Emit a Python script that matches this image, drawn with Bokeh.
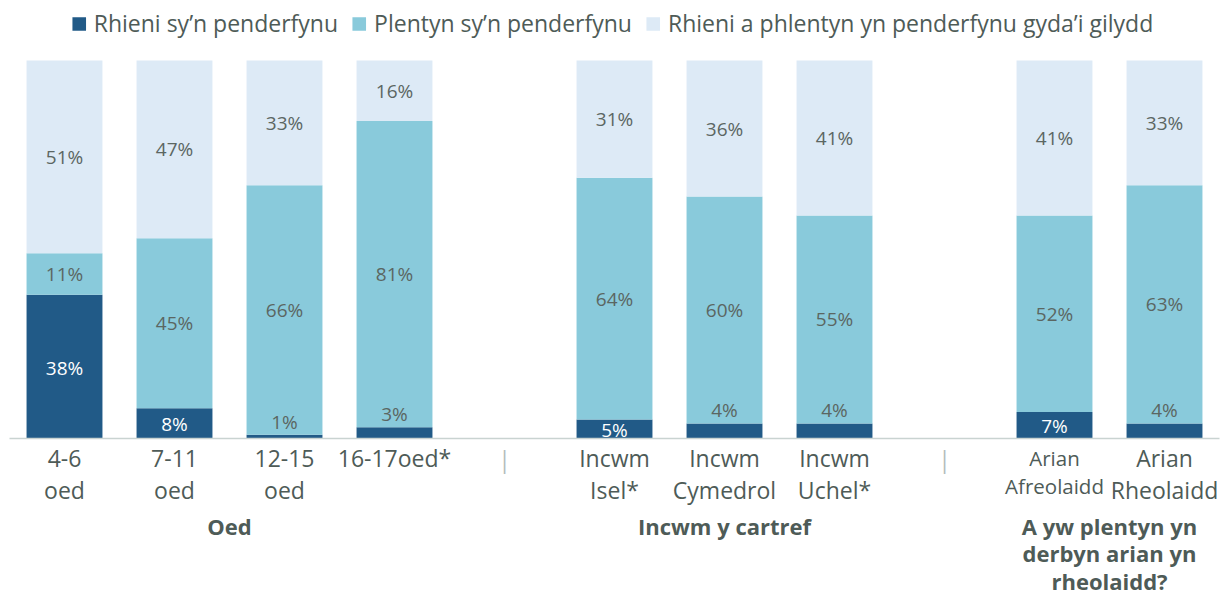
from bokeh.plotting import figure
from bokeh.models import ColumnDataSource, Range1d, Legend, LegendItem
from bokeh.core.properties import value
from bokeh.embed import file_html
from bokeh.resources import INLINE

# ---- data ----
group_names = ["Oed", "Incwm y cartref", "A yw plentyn yn\nderbyn arian yn\nrheolaidd?"]
group_categories = [
    ["4-6\noed", "7-11\noed", "12-15\noed", "16-17oed*"],
    ["Incwm\nIsel*", "Incwm\nCymedrol", "Incwm\nUchel*"],
    ["Arian\nAfreolaidd", "Arian\nRheolaidd"],
]
parents_decide = [38, 8, 1, 3, 5, 4, 4, 7, 4]
child_decides = [11, 45, 66, 81, 64, 60, 55, 52, 63]
decide_together = [51, 47, 33, 16, 31, 36, 41, 41, 33]
series_names = ["Rhieni sy\u2019n penderfynu", "Plentyn sy\u2019n penderfynu",
                "Rhieni a phlentyn yn penderfynu gyda\u2019i gilydd"]

# ---- styles ----
COLORS = ["#215a87", "#89cadb", "#ddeaf6"]
TEXT = "#4e5b57"
LABEL = "#5b6662"
FONT = "Open Sans"
CAT_FONT_SIZES = ["23px"] * 7 + ["20.5px", "23px"]   # the long label is drawn smaller
CAT_OFFSETS = [3] * 7 + [5, 3]

# slot positions (one empty slot between groups holds a separator)
xs, cats, seps, centers = [], [], [], []
slot = 0
for gi, cl in enumerate(group_categories):
    start = slot
    for c in cl:
        xs.append(slot)
        cats.append(c)
        slot += 1
    centers.append((start + slot - 1) / 2)
    if gi < len(group_categories) - 1:
        seps.append(slot)
        slot += 1
nslots = slot

p_ = [v / 100 for v in parents_decide]
c_ = [v / 100 for v in child_decides]
t_ = [v / 100 for v in decide_together]
b1 = p_
b2 = [a + b for a, b in zip(p_, c_)]
b3 = [a + b for a, b in zip(b2, t_)]

src = ColumnDataSource(dict(x=xs, b0=[0] * len(xs), b1=b1, b2=b2, b3=b3))

# ---- layout (pixels) ----
W, H = 1223, 596
SLOT_PX = 110
LEFT_PX = 9           # left edge of the first slot
AXIS_PX = 438         # axis line, from top
BAR_PX = 378          # height of 100 %
x0 = -0.5 - LEFT_PX / SLOT_PX
y0 = -(H - AXIS_PX) / BAR_PX

p = figure(width=W, height=H, output_backend="svg", toolbar_location=None,
           x_range=Range1d(x0, x0 + W / SLOT_PX), y_range=Range1d(y0, y0 + H / BAR_PX),
           min_border=0, x_axis_location=None, y_axis_location=None)
p.outline_line_color = None
p.xgrid.visible = False
p.ygrid.visible = False

bw = 0.69
r1 = p.vbar(x="x", bottom="b0", top="b1", width=bw, source=src, fill_color=COLORS[0], line_color=None)
r2 = p.vbar(x="x", bottom="b1", top="b2", width=bw, source=src, fill_color=COLORS[1], line_color=None)
r3 = p.vbar(x="x", bottom="b2", top="b3", width=bw, source=src, fill_color=COLORS[2], line_color=None)

# baseline (category axis line)
p.segment(x0=[-0.5], y0=[0], x1=[nslots - 0.5], y1=[0], line_color="#c9d3d1", line_width=1.5)

# value labels
lx, ly, lt, lc, loff = [], [], [], [], []
for i, x in enumerate(xs):
    v = parents_decide[i]
    if v >= 5:
        lx.append(x); ly.append(b1[i] / 2); lt.append(f"{v}%"); lc.append("white"); loff.append(1)
    else:
        lx.append(x); ly.append(b1[i]); lt.append(f"{v}%"); lc.append(LABEL); loff.append(-13)
    lx.append(x); ly.append((b1[i] + b2[i]) / 2); lt.append(f"{child_decides[i]}%"); lc.append(LABEL); loff.append(0)
    lx.append(x); ly.append((b2[i] + b3[i]) / 2); lt.append(f"{decide_together[i]}%"); lc.append(LABEL); loff.append(0)
lsrc = ColumnDataSource(dict(x=lx, y=ly, t=lt, c=lc, off=loff))
p.text(x="x", y="y", text="t", source=lsrc, text_color="c", y_offset="off",
       text_align="center", text_baseline="middle",
       text_font=value(FONT), text_font_size="19px")

# category labels
csrc = ColumnDataSource(dict(x=xs, y=[0] * len(xs), t=cats, fs=CAT_FONT_SIZES, off=CAT_OFFSETS))
p.text(x="x", y="y", text="t", source=csrc, text_align="center", text_baseline="top",
       y_offset="off", text_font=value(FONT), text_font_size="fs", text_color=TEXT,
       text_line_height=1.0)

# separators between groups
p.text(x=seps, y=[0] * len(seps), text=["|"] * len(seps), text_align="center",
       text_baseline="top", y_offset=4, text_font=value(FONT), text_font_size="23px",
       text_color="#b3bdbb")

# group labels
p.text(x=centers, y=[0] * len(centers), text=group_names, text_align="center",
       text_baseline="top", y_offset=72, text_font=value(FONT), text_font_size="22px",
       text_font_style="bold", text_color=TEXT, text_line_height=0.93)

legend = Legend(items=[LegendItem(label=series_names[0], renderers=[r1]),
                       LegendItem(label=series_names[1], renderers=[r2]),
                       LegendItem(label=series_names[2], renderers=[r3])],
                orientation="horizontal", location="top_center",
                glyph_width=17, glyph_height=17, label_standoff=7, spacing=12,
                padding=0, margin=7, border_line_color=None, background_fill_alpha=0,
                label_text_font=FONT, label_text_font_size="23px", label_text_color=TEXT)
p.add_layout(legend, "center")

open("out.html", "w").write(file_html(p, INLINE))
